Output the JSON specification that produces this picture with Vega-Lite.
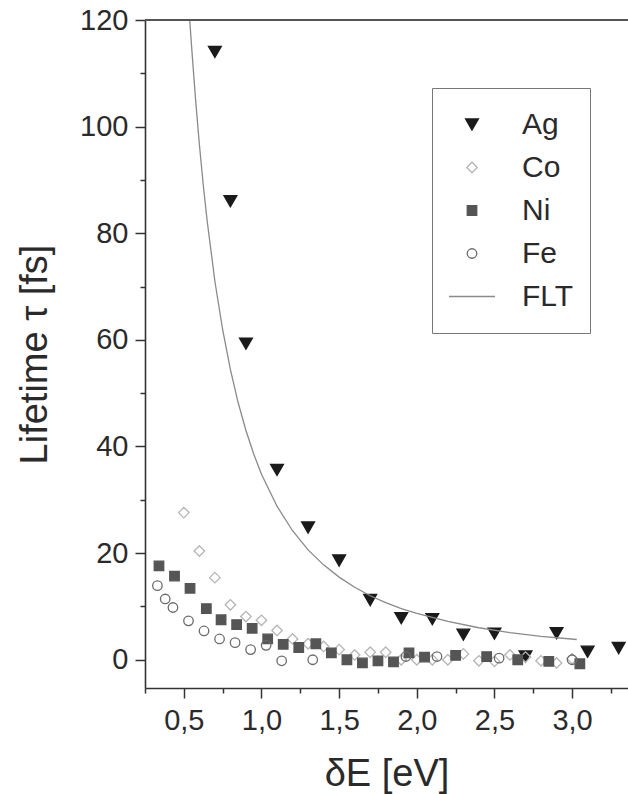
{
  "$schema": "https://vega.github.io/schema/vega-lite/v6.json",
  "width": 483,
  "height": 668,
  "autosize": {"type": "none"},
  "padding": {"left": 145, "top": 20, "right": 0, "bottom": 106},
  "background": "white",
  "view": {"stroke": null},
  "config": {
    "font": "Liberation Sans",
    "axis": {"grid": false, "labelFont": "Liberation Sans", "titleFont": "Liberation Sans", "labelColor": "#2a2a2a", "titleColor": "#2a2a2a", "titleFontWeight": "normal", "domainColor": "#333", "tickColor": "#333", "domainWidth": 1.6, "tickWidth": 1.5, "labelFontSize": 29, "titleFontSize": 38, "labelFlush": false, "labelOverlap": false},
    "axisX": {"labelPadding": 8, "titlePadding": 20},
    "axisY": {"labelPadding": 7, "titlePadding": 25}
  },
  "data": {"values": [
    {"metal": "Ag", "dE": 0.7, "tau": 114},
    {"metal": "Ag", "dE": 0.8, "tau": 86},
    {"metal": "Ag", "dE": 0.9, "tau": 59.3},
    {"metal": "Ag", "dE": 1.1, "tau": 35.6},
    {"metal": "Ag", "dE": 1.3, "tau": 24.8},
    {"metal": "Ag", "dE": 1.5, "tau": 18.6},
    {"metal": "Ag", "dE": 1.7, "tau": 11.2},
    {"metal": "Ag", "dE": 1.9, "tau": 7.8},
    {"metal": "Ag", "dE": 2.1, "tau": 7.6},
    {"metal": "Ag", "dE": 2.3, "tau": 4.7},
    {"metal": "Ag", "dE": 2.5, "tau": 4.9},
    {"metal": "Ag", "dE": 2.7, "tau": 0.6},
    {"metal": "Ag", "dE": 2.9, "tau": 5.0},
    {"metal": "Ag", "dE": 3.1, "tau": 1.5},
    {"metal": "Ag", "dE": 3.3, "tau": 2.2},
    {"metal": "Co", "dE": 0.5, "tau": 27.6},
    {"metal": "Co", "dE": 0.6, "tau": 20.4},
    {"metal": "Co", "dE": 0.7, "tau": 15.4},
    {"metal": "Co", "dE": 0.8, "tau": 10.3},
    {"metal": "Co", "dE": 0.9, "tau": 8.1},
    {"metal": "Co", "dE": 1.0, "tau": 7.4},
    {"metal": "Co", "dE": 1.1, "tau": 5.5},
    {"metal": "Co", "dE": 1.2, "tau": 3.9},
    {"metal": "Co", "dE": 1.3, "tau": 3.0},
    {"metal": "Co", "dE": 1.4, "tau": 2.5},
    {"metal": "Co", "dE": 1.5, "tau": 1.9},
    {"metal": "Co", "dE": 1.6, "tau": 0.9},
    {"metal": "Co", "dE": 1.7, "tau": 1.4},
    {"metal": "Co", "dE": 1.8, "tau": 1.4},
    {"metal": "Co", "dE": 1.9, "tau": 0.0},
    {"metal": "Co", "dE": 2.0, "tau": 0.0},
    {"metal": "Co", "dE": 2.1, "tau": 0.0},
    {"metal": "Co", "dE": 2.2, "tau": 0.0},
    {"metal": "Co", "dE": 2.3, "tau": 1.1},
    {"metal": "Co", "dE": 2.4, "tau": -0.2},
    {"metal": "Co", "dE": 2.5, "tau": -0.3},
    {"metal": "Co", "dE": 2.6, "tau": 0.9},
    {"metal": "Co", "dE": 2.7, "tau": 0.5},
    {"metal": "Co", "dE": 2.8, "tau": -0.2},
    {"metal": "Co", "dE": 2.9, "tau": -0.6},
    {"metal": "Co", "dE": 3.0, "tau": 0.2},
    {"metal": "Ni", "dE": 0.34, "tau": 17.6},
    {"metal": "Ni", "dE": 0.44, "tau": 15.7},
    {"metal": "Ni", "dE": 0.54, "tau": 13.4},
    {"metal": "Ni", "dE": 0.645, "tau": 9.6},
    {"metal": "Ni", "dE": 0.74, "tau": 7.5},
    {"metal": "Ni", "dE": 0.84, "tau": 6.6},
    {"metal": "Ni", "dE": 0.94, "tau": 5.9},
    {"metal": "Ni", "dE": 1.04, "tau": 3.9},
    {"metal": "Ni", "dE": 1.14, "tau": 2.9},
    {"metal": "Ni", "dE": 1.24, "tau": 2.3},
    {"metal": "Ni", "dE": 1.35, "tau": 3.0},
    {"metal": "Ni", "dE": 1.45, "tau": 1.3},
    {"metal": "Ni", "dE": 1.55, "tau": 0.0},
    {"metal": "Ni", "dE": 1.65, "tau": -0.6},
    {"metal": "Ni", "dE": 1.75, "tau": -0.2},
    {"metal": "Ni", "dE": 1.85, "tau": -0.4},
    {"metal": "Ni", "dE": 1.95, "tau": 1.3},
    {"metal": "Ni", "dE": 2.05, "tau": 0.5},
    {"metal": "Ni", "dE": 2.25, "tau": 0.8},
    {"metal": "Ni", "dE": 2.45, "tau": 0.6},
    {"metal": "Ni", "dE": 2.65, "tau": 0.0},
    {"metal": "Ni", "dE": 2.85, "tau": -0.3},
    {"metal": "Ni", "dE": 3.05, "tau": -0.75},
    {"metal": "Fe", "dE": 0.33, "tau": 13.9},
    {"metal": "Fe", "dE": 0.38, "tau": 11.4},
    {"metal": "Fe", "dE": 0.43, "tau": 9.8},
    {"metal": "Fe", "dE": 0.53, "tau": 7.3},
    {"metal": "Fe", "dE": 0.63, "tau": 5.4},
    {"metal": "Fe", "dE": 0.73, "tau": 3.9},
    {"metal": "Fe", "dE": 0.83, "tau": 3.2},
    {"metal": "Fe", "dE": 0.93, "tau": 1.9},
    {"metal": "Fe", "dE": 1.03, "tau": 2.7},
    {"metal": "Fe", "dE": 1.13, "tau": -0.2},
    {"metal": "Fe", "dE": 1.33, "tau": 0.0},
    {"metal": "Fe", "dE": 1.93, "tau": 0.6},
    {"metal": "Fe", "dE": 2.13, "tau": 0.6},
    {"metal": "Fe", "dE": 2.53, "tau": 0.3},
    {"metal": "Fe", "dE": 3.0, "tau": 0.0},
    {"metal": "FLT", "dE": 0.538, "tau": 120.0},
    {"metal": "FLT", "dE": 0.55, "tau": 115.0},
    {"metal": "FLT", "dE": 0.575, "tau": 105.3},
    {"metal": "FLT", "dE": 0.6, "tau": 96.7},
    {"metal": "FLT", "dE": 0.625, "tau": 89.1},
    {"metal": "FLT", "dE": 0.65, "tau": 82.4},
    {"metal": "FLT", "dE": 0.7, "tau": 71.0},
    {"metal": "FLT", "dE": 0.75, "tau": 61.9},
    {"metal": "FLT", "dE": 0.8, "tau": 54.4},
    {"metal": "FLT", "dE": 0.85, "tau": 48.2},
    {"metal": "FLT", "dE": 0.9, "tau": 43.0},
    {"metal": "FLT", "dE": 0.95, "tau": 38.6},
    {"metal": "FLT", "dE": 1.0, "tau": 34.8},
    {"metal": "FLT", "dE": 1.1, "tau": 28.8},
    {"metal": "FLT", "dE": 1.2, "tau": 24.2},
    {"metal": "FLT", "dE": 1.3, "tau": 20.6},
    {"metal": "FLT", "dE": 1.4, "tau": 17.8},
    {"metal": "FLT", "dE": 1.5, "tau": 15.5},
    {"metal": "FLT", "dE": 1.6, "tau": 13.6},
    {"metal": "FLT", "dE": 1.7, "tau": 12.0},
    {"metal": "FLT", "dE": 1.8, "tau": 10.7},
    {"metal": "FLT", "dE": 1.9, "tau": 9.6},
    {"metal": "FLT", "dE": 2.0, "tau": 8.7},
    {"metal": "FLT", "dE": 2.2, "tau": 7.2},
    {"metal": "FLT", "dE": 2.4, "tau": 6.0},
    {"metal": "FLT", "dE": 2.6, "tau": 5.1},
    {"metal": "FLT", "dE": 2.8, "tau": 4.4},
    {"metal": "FLT", "dE": 3.03, "tau": 3.8}
  ]},
  "encoding": {
    "y": {"field": "tau", "type": "quantitative", "scale": {"domain": [-5.3, 120], "nice": false, "zero": false},
      "axis": {"title": "Lifetime τ [fs]", "values": [0, 10, 20, 30, 40, 50, 60, 70, 80, 90, 100, 110, 120],
        "labelExpr": "datum.value % 20 == 0 ? datum.value : ''",
        "tickSize": {"condition": {"test": "datum.value % 20 != 0", "value": 5}, "value": 10}}}
  },
  "layer": [
    {
      "transform": [{"filter": "datum.metal != 'FLT'"}],
      "mark": {"type": "point", "strokeWidth": 1.3, "opacity": 1},
      "encoding": {
        "x": {"field": "dE", "type": "quantitative", "scale": {"domain": [0.25, 3.36], "nice": false, "zero": false},
          "axis": {"title": "δE [eV]", "values": [0.25, 0.5, 0.75, 1, 1.25, 1.5, 1.75, 2, 2.25, 2.5, 2.75, 3, 3.25],
            "labelExpr": "abs(datum.value*2 - round(datum.value*2)) < 0.01 ? replace(format(datum.value, '.1f'), '.', ',') : ''",
            "tickSize": {"condition": {"test": "abs(datum.value*2 - round(datum.value*2)) > 0.01", "value": 5}, "value": 10}}},
        "shape": {"field": "metal", "type": "nominal",
          "scale": {"domain": ["Ag", "Co", "Ni", "Fe", "FLT"], "range": ["triangle-down", "diamond", "square", "circle", "stroke"]},
          "legend": {"title": null, "orient": "none", "legendX": 287, "legendY": 68, "padding": 16, "strokeColor": "#777", "clipHeight": 41, "rowPadding": 2, "labelOffset": 26, "labelFontSize": 30, "labelFont": "Liberation Sans", "labelColor": "#2a2a2a", "symbolStrokeWidth": 1.3, "symbolOpacity": 1}},
        "fill": {"field": "metal", "type": "nominal",
          "scale": {"domain": ["Ag", "Co", "Ni", "Fe", "FLT"], "range": ["#1a1a1a", "transparent", "#555555", "transparent", "transparent"]}},
        "stroke": {"field": "metal", "type": "nominal",
          "scale": {"domain": ["Ag", "Co", "Ni", "Fe", "FLT"], "range": ["#1a1a1a", "#b5b5b5", "#555555", "#6a6a6a", "#8a8a8a"]}},
        "size": {"field": "metal", "type": "nominal",
          "scale": {"type": "ordinal", "domain": ["Ag", "Co", "Ni", "Fe", "FLT"], "range": [165, 110, 90, 90, 2116]}}
      }
    },
    {
      "transform": [{"filter": "datum.metal == 'FLT'"}],
      "mark": {"type": "line", "color": "#8a8a8a", "strokeWidth": 1.3},
      "encoding": {
        "x": {"field": "dE", "type": "quantitative", "scale": {"domain": [0.25, 3.36], "nice": false, "zero": false},
          "axis": {"title": "δE [eV]", "values": [0.25, 0.5, 0.75, 1, 1.25, 1.5, 1.75, 2, 2.25, 2.5, 2.75, 3, 3.25],
            "labelExpr": "abs(datum.value*2 - round(datum.value*2)) < 0.01 ? replace(format(datum.value, '.1f'), '.', ',') : ''",
            "tickSize": {"condition": {"test": "abs(datum.value*2 - round(datum.value*2)) > 0.01", "value": 5}, "value": 10}}}
      }
    },
    {
      "mark": {"type": "rule", "color": "#555", "strokeWidth": 2.2},
      "encoding": {"y": {"datum": 120, "type": "quantitative", "scale": {"domain": [-5.3, 120], "nice": false, "zero": false},
        "axis": {"title": "Lifetime τ [fs]", "values": [0, 10, 20, 30, 40, 50, 60, 70, 80, 90, 100, 110, 120],
          "labelExpr": "datum.value % 20 == 0 ? datum.value : ''",
          "tickSize": {"condition": {"test": "datum.value % 20 != 0", "value": 5}, "value": 10}}}}
    }
  ]
}
